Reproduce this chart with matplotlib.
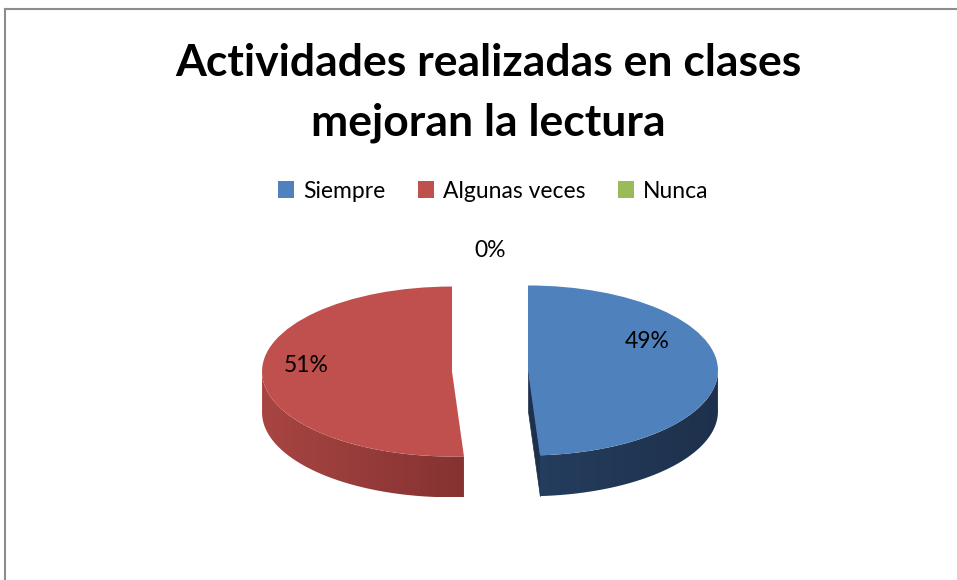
import numpy as np
import matplotlib
matplotlib.use("Agg")
import matplotlib.pyplot as plt
from matplotlib.collections import PolyCollection
from matplotlib.lines import Line2D
from matplotlib.patches import Polygon
from matplotlib.colors import to_rgb

# data
categories = ["Siempre", "Algunas veces", "Nunca"]
values = [49, 51, 0]
colors = ["#4F81BD", "#C0504D", "#9BBB59"]
# side shading (left -> right) per slice
side_colors = [("#2c4a72", "#1e314c"), ("#a84542", "#652224"), ("#7d9a45", "#5c7431")]
title = "Actividades realizadas en clases\nmejoran la lectura"

plt.rcParams['font.family'] = ['Lato', 'DejaVu Sans']

fig = plt.figure(figsize=(9.57, 5.8), dpi=100)
ax = fig.add_axes([0, 0, 1, 1])

depth = 0.48
explode = [0.2, 0.2, 0.2]

wedges, _ = ax.pie(values, explode=explode, colors=colors, startangle=90,
                   counterclock=False, radius=1,
                   wedgeprops=dict(linewidth=0, zorder=3))


def mix(c1, c2, t):
    a, b = np.array(to_rgb(c1)), np.array(to_rgb(c2))
    return a + (b - a) * t


# extruded sides, built from each wedge's geometry
for w, (cl, cr) in zip(wedges, side_colors):
    t1, t2 = w.theta1, w.theta2
    if t2 - t1 < 1e-6:
        continue
    cx, cy = w.center
    r = w.r
    # cut faces that face the viewer
    faces = []
    for th, nrm in ((t1, t1 - 90), (t2, t2 + 90)):
        if np.sin(np.radians(nrm)) < -1e-3:
            ex = cx + r * np.cos(np.radians(th))
            ey = cy + r * np.sin(np.radians(th))
            faces.append([(cx, cy), (ex, ey), (ex, ey - depth), (cx, cy - depth)])
    if faces:
        ax.add_collection(PolyCollection(faces, facecolors=[cr], edgecolors=[cr],
                                         linewidths=0.5, zorder=1))
    # outer wall: front part of the arc, shaded by a horizontal gradient
    th = np.radians(np.linspace(t1, t2, 400))
    th = th[np.sin(th) <= 0.02]
    if len(th) < 2:
        continue
    xs = cx + r * np.cos(th)
    ys = cy + r * np.sin(th)
    pts = np.vstack([np.column_stack([xs, ys]),
                     np.column_stack([xs[::-1], ys[::-1] - depth])])
    clip = Polygon(pts, closed=True, facecolor='none', edgecolor='none',
                   transform=ax.transData)
    ax.add_patch(clip)
    grad = np.array([mix(cl, cr, t) for t in np.linspace(0, 1, 256)])[None, :, :]
    im = ax.imshow(grad, extent=(cx - r, cx + r, ys.min() - depth, ys.max()),
                   aspect='auto', interpolation='bilinear', zorder=2)
    im.set_clip_path(clip)

ax.set_aspect('auto')
ax.set_xlim(-2.579, 2.458)
ax.set_ylim(-2.459, 4.365)
ax.axis('off')

# percentage labels
total = sum(values)
label_offsets = [(0.63, 0.34), (-0.77, 0.07), (0.0, 1.22)]
for w, v, (dx, dy) in zip(wedges, values, label_offsets):
    cx, cy = w.center
    ax.text(cx + dx, cy + dy, f"{v / total * 100:.0f}%", ha='center', va='center',
            fontsize=16.5, color='black', zorder=5)

fig.text(0.51, 1 - 93 / 580, title, ha='center', va='center', fontsize=32,
         fontweight='bold', linespacing=1.62)

fig.legend(wedges, categories, loc='center', bbox_to_anchor=(0.5155, 1 - 191 / 580),
           ncol=3, frameon=False, fontsize=16.5, handlelength=0.7, handleheight=0.7,
           handletextpad=0.4, columnspacing=1.4)

# chart border (partially cropped)
fig.add_artist(Line2D([5 / 957, 1], [1 - 9 / 580, 1 - 9 / 580], color='#8c8c8c', lw=1.5))
fig.add_artist(Line2D([5 / 957, 5 / 957], [0, 1 - 9 / 580], color='#8c8c8c', lw=1.5))

fig.savefig("out.png", dpi=100)
